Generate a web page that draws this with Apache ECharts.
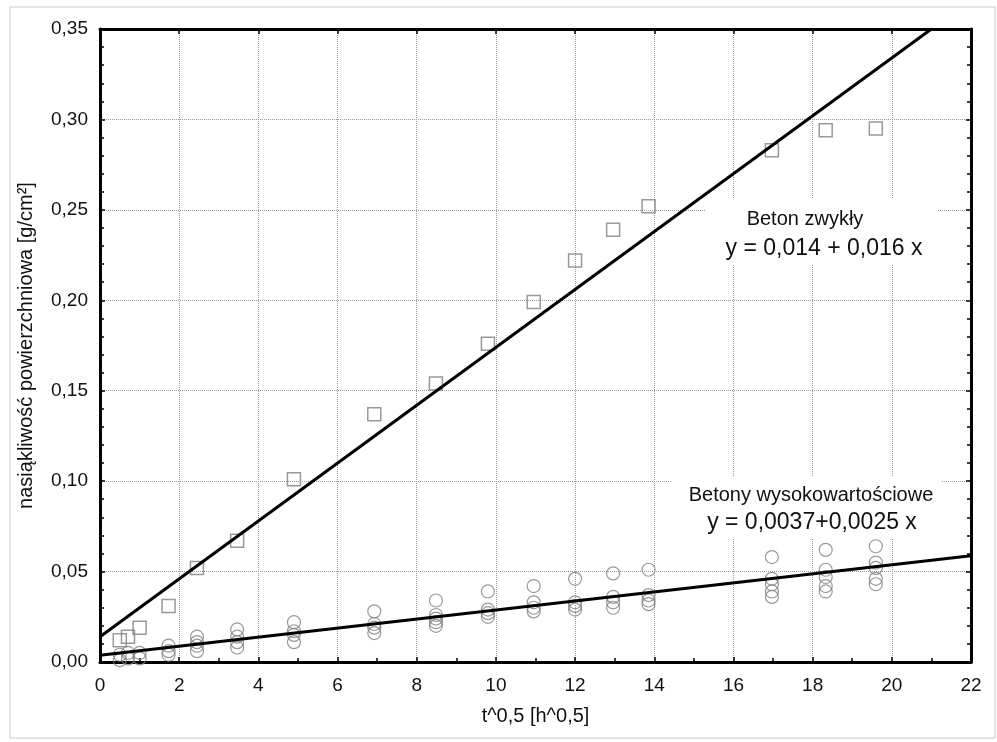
<!DOCTYPE html>
<html>
<head>
<meta charset="utf-8">
<script src="https://cdn.jsdelivr.net/npm/echarts@6/dist/echarts.min.js"></script>
<style>
  html, body { margin: 0; padding: 0; background: #fff; }
  #main { width: 997px; height: 742px; }
</style>
</head>
<body>
<div id="main"></div>
<script>
// pierwiastek z czasu [h^0,5]
const tSqrt = [0.5, 0.707, 1, 1.732, 2.449, 3.464, 4.899, 6.928, 8.485, 9.798, 10.954, 12, 12.961, 13.856, 16.971, 18.33, 19.596]

// beton zwykły (kwadraty)
const betonZwykly = [0.012, 0.014, 0.019, 0.031, 0.052, 0.067, 0.101, 0.137, 0.154, 0.176, 0.199, 0.222, 0.239, 0.252, 0.283, 0.294, 0.295]

// betony wysokowartościowe (kółka) - kilka próbek na każdy czas
const betonyWysoko = [
  [0.001, 0.004],
  [0.002, 0.005],
  [0.002, 0.005],
  [0.004, 0.006, 0.009],
  [0.006, 0.009, 0.011, 0.014],
  [0.008, 0.011, 0.014, 0.018],
  [0.011, 0.015, 0.017, 0.022],
  [0.016, 0.019, 0.021, 0.028],
  [0.020, 0.022, 0.024, 0.026, 0.034],
  [0.025, 0.027, 0.029, 0.039],
  [0.028, 0.030, 0.033, 0.042],
  [0.029, 0.031, 0.033, 0.046],
  [0.030, 0.033, 0.036, 0.049],
  [0.032, 0.034, 0.037, 0.051],
  [0.036, 0.039, 0.043, 0.046, 0.058],
  [0.039, 0.042, 0.047, 0.051, 0.062],
  [0.043, 0.046, 0.052, 0.055, 0.064]
]

// linie regresji (końce odcinków)
const fitZwyklyX = [0, 21]
const fitZwyklyY = [0.014, 0.35]
const fitWysokoX = [0, 22]
const fitWysokoY = [0.0037, 0.0587]

const labelZwykly = 'Beton zwykły'
const eqZwykly = 'y = 0,014 + 0,016 x'
const labelWysoko = 'Betony wysokowartościowe'
const eqWysoko = 'y = 0,0037+0,0025 x'

const squares = tSqrt.map((t, i) => [t, betonZwykly[i]])
const circles = []
tSqrt.forEach((t, i) => {
  betonyWysoko[i].forEach(v => circles.push([t, v]))
})
const lineZwykly = fitZwyklyX.map((x, i) => [x, fitZwyklyY[i]])
const lineWysoko = fitWysokoX.map((x, i) => [x, fitWysokoY[i]])

const font = 'Liberation Sans, Arial, sans-serif'
const gridLine = { show: true, lineStyle: { color: '#999', type: 'dotted', width: 1 } }
const axisLine = { show: true, onZero: false, lineStyle: { color: '#000', width: 3 } }
const tick = { show: true, inside: true, length: 5, lineStyle: { color: '#000', width: 1.5 } }
const minor = { show: true, length: 4, lineStyle: { color: '#000', width: 1.5 } }

function comma (v, d) {
  return v.toFixed(d).replace('.', ',')
}

const myChart = echarts.init(document.getElementById('main'))

const option = {
  animation: false,
  backgroundColor: '#fff',
  grid: { left: 100, right: 26, top: 29, bottom: 80 },
  xAxis: [
    {
      type: 'value',
      min: 0, max: 22, interval: 2,
      axisLine: axisLine,
      axisTick: tick,
      minorTick: Object.assign({ splitNumber: 2 }, minor),
      splitLine: gridLine,
      axisLabel: { color: '#111', fontSize: 19, fontFamily: font, margin: 14, formatter: v => String(v) },
      name: 't^0,5 [h^0,5]',
      nameLocation: 'middle',
      nameGap: 44,
      nameTextStyle: { color: '#111', fontSize: 20, fontFamily: font }
    },
    {
      type: 'value',
      position: 'top',
      min: 0, max: 22, interval: 2,
      axisLine: axisLine,
      axisTick: tick,
      axisLabel: { show: false },
      splitLine: { show: false }
    }
  ],
  yAxis: [
    {
      type: 'value',
      min: 0, max: 0.35, interval: 0.05,
      axisLine: axisLine,
      axisTick: tick,
      minorTick: Object.assign({ splitNumber: 5 }, minor),
      splitLine: gridLine,
      axisLabel: { color: '#111', fontSize: 19, fontFamily: font, margin: 12, formatter: v => comma(v, 2) },
      name: 'nasiąkliwość powierzchniowa [g/cm²]',
      nameLocation: 'middle',
      nameGap: 64,
      nameTextStyle: { color: '#111', fontSize: 20, fontFamily: font }
    },
    {
      type: 'value',
      position: 'right',
      min: 0, max: 0.35, interval: 0.05,
      axisLine: axisLine,
      axisTick: tick,
      minorTick: Object.assign({ splitNumber: 5 }, minor),
      axisLabel: { show: false },
      splitLine: { show: false }
    }
  ],
  series: [
    {
      name: 'Beton zwykły',
      type: 'scatter',
      data: squares,
      symbol: 'rect',
      symbolSize: 13,
      itemStyle: { color: 'rgba(255,255,255,0)', borderColor: '#808080', borderWidth: 1.5 },
      z: 3
    },
    {
      name: 'Betony wysokowartościowe',
      type: 'scatter',
      data: circles,
      symbol: 'circle',
      symbolSize: 13,
      itemStyle: { color: 'rgba(255,255,255,0)', borderColor: '#808080', borderWidth: 1.2 },
      z: 3
    },
    {
      type: 'line',
      data: lineZwykly,
      showSymbol: false,
      lineStyle: { color: '#000', width: 3 },
      z: 4
    },
    {
      type: 'line',
      data: lineWysoko,
      showSymbol: false,
      lineStyle: { color: '#000', width: 3 },
      z: 4
    }
  ],
  graphic: [
    // ramka całego obrazka
    {
      type: 'rect',
      shape: { x: 10, y: 7, width: 985, height: 731 },
      style: { fill: 'none', stroke: '#c8c8c8', lineWidth: 1 },
      silent: true
    },
    // białe tło pod opisami
    {
      type: 'rect', z: 1,
      shape: { x: 706, y: 199, width: 232, height: 66 },
      style: { fill: '#fff' }
    },
    {
      type: 'rect', z: 1,
      shape: { x: 672, y: 476, width: 270, height: 63 },
      style: { fill: '#fff' }
    },
    {
      type: 'text', z: 2, x: 805, y: 219,
      style: { text: labelZwykly, fill: '#111', font: '20px ' + font, align: 'center', verticalAlign: 'middle' }
    },
    {
      type: 'text', z: 2, x: 824, y: 249,
      style: { text: eqZwykly, fill: '#111', font: '23px ' + font, align: 'center', verticalAlign: 'middle' }
    },
    {
      type: 'text', z: 2, x: 811, y: 495,
      style: { text: labelWysoko, fill: '#111', font: '20px ' + font, align: 'center', verticalAlign: 'middle' }
    },
    {
      type: 'text', z: 2, x: 812, y: 523,
      style: { text: eqWysoko, fill: '#111', font: '23px ' + font, align: 'center', verticalAlign: 'middle' }
    }
  ]
}

option && myChart.setOption(option)
</script>
</body>
</html>
